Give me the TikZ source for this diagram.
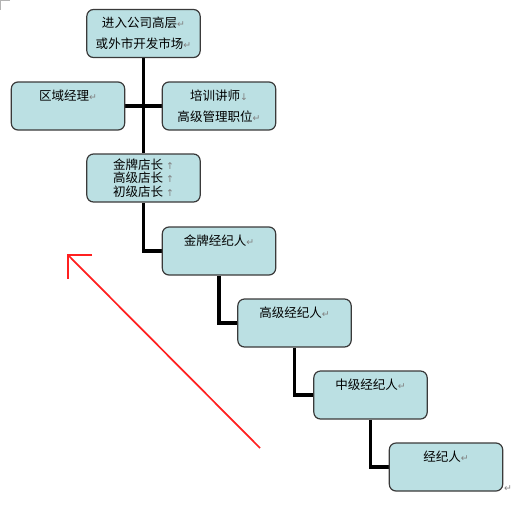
\documentclass[tikz,border=0pt]{standalone}
\usepackage{fontspec}
\usetikzlibrary{backgrounds}
\setmainfont{Noto Sans CJK SC}
\newfontfamily\symf{DejaVu Sans}
\definecolor{boxfill}{HTML}{BBE0E3}
\definecolor{boxline}{HTML}{3A3A3A}
\definecolor{markgray}{HTML}{808080}
\definecolor{arrowred}{HTML}{FF2020}
\newcommand{\parmark}{{\symf\fontsize{7}{8}\selectfont\textcolor{markgray}{↵}}}
\newcommand{\upmark}{{\symf\fontsize{7}{8}\selectfont\textcolor{markgray}{↑}}}
\newcommand{\downmark}{{\symf\fontsize{7}{8}\selectfont\textcolor{markgray}{↓}}}
\begin{document}
\begin{tikzpicture}[x=0.75pt,y=-0.75pt,
  box/.style={draw=boxline, line width=0.9pt, fill=boxfill, rounded corners=5pt,
    align=center, inner sep=0pt, minimum width=85pt, minimum height=36pt,
    font=\fontsize{9.4}{15.5}\selectfont},
  tightbox/.style={box, font=\fontsize{9.4}{10.2}\selectfont},
  link/.style={line width=2.4pt, black},
  redarrow/.style={line width=1.3pt, arrowred}]
\useasboundingbox (0,0) rectangle (520,508);
% corner mark
\draw[markgray!60, line width=0.6pt] (10,0.4) -- (0.4,0.4) -- (0.4,10);
\node[box] (b1) at (143.5,33.5) {进入公司高层\parmark\\或外市开发市场\parmark};
\node[box] (qy) at (68,106) {区域经理\parmark\\\mbox{}};
\node[box] (px) at (219,106) {培训讲师\downmark\\高级管理职位\parmark};
\node[tightbox] (dz) at (143.5,178) {金牌店长 \upmark\\高级店长 \upmark\\初级店长 \upmark};
\node[box] (jp) at (219,251) {金牌经纪人\parmark\\\mbox{}};
\node[box] (gj) at (294.5,323) {高级经纪人\parmark\\\mbox{}};
\node[box] (zj) at (370.5,395) {中级经纪人\parmark\\\mbox{}};
\node[box] (jj) at (446,467) {经纪人\parmark\\\mbox{}};
\begin{scope}[on background layer]
\draw[link] (b1.south) -- (dz.north);
\draw[link] (qy.east) -- (px.west);
\draw[link] (dz.south) |- (jp.west);
\draw[link] (jp.south) |- (gj.west);
\draw[link] (gj.south) |- (zj.west);
\draw[link] (zj.south) |- (jj.west);
\end{scope}
% trailing paragraph mark
\node[inner sep=0pt] (endmark) at (508,489) {\parmark};
% red arrow
\coordinate (rs) at (260,448);
\coordinate (rt) at (68,255);
\coordinate (rh1) at (92,255);
\coordinate (rh2) at (68,279);
\draw[redarrow] (rs) -- (rt);
\draw[redarrow, line cap=square] (rh1) -- (rt) -- (rh2);
\end{tikzpicture}
\end{document}
